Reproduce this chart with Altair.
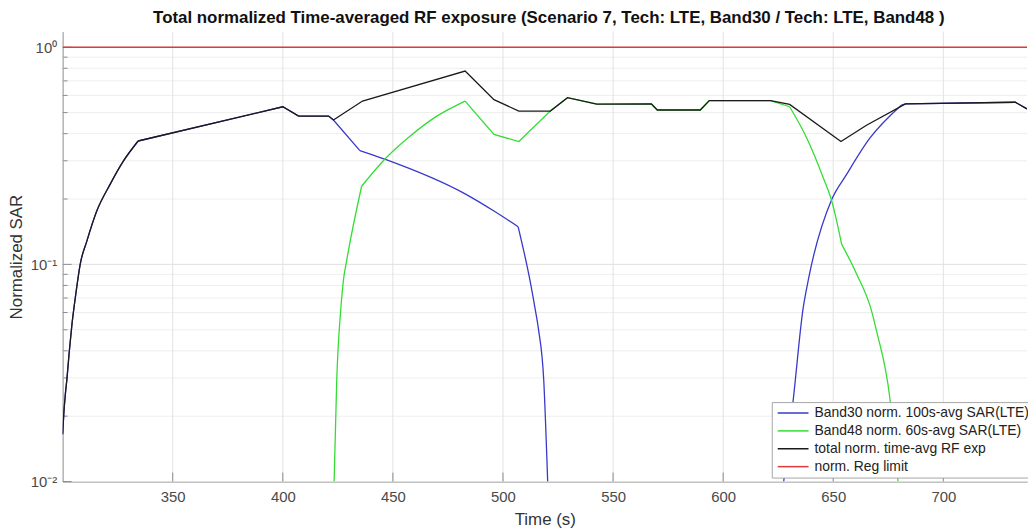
import altair as alt
import pandas as pd

# ---- data (time in s, normalized SAR) ----
# total norm. time-avg RF exp
tot_rise_t = [300, 300.6, 301.2, 302.0, 303.0, 304.2, 305.8, 308.0, 311.0, 315.5, 321.5, 327.5, 334.3]
tot_rise_v = [0.0165, 0.021, 0.025, 0.030, 0.0395, 0.0525, 0.0707, 0.1004, 0.128, 0.176, 0.233, 0.298, 0.370]
tot_rest_t = [334.3, 400.0, 407.2, 420.8, 423.0, 436.2, 482.8, 495.9, 507.2, 521.5, 529.3, 542.6,
              567.4, 570.1, 589.6, 593.7, 621.5, 630.2, 653.5, 665.1, 682.8, 732.7, 738.0]
tot_rest_v = [0.370, 0.532, 0.482, 0.482, 0.462, 0.565, 0.777, 0.574, 0.508, 0.508, 0.586, 0.547,
              0.548, 0.514, 0.514, 0.568, 0.568, 0.545, 0.368, 0.437, 0.548, 0.558, 0.520]

# Band30 norm. 100s-avg SAR(LTE)
b30_lin1_t = [334.3, 400.0, 407.2, 420.8, 423.0, 435.0]
b30_lin1_v = [0.370, 0.532, 0.482, 0.482, 0.462, 0.334]
b30_dec1_t = [435.0, 446.3, 483.2, 495.9, 506.9]
b30_dec1_v = [0.334, 0.305, 0.210, 0.176, 0.149]
b30_dec2_t = [506.9, 512.5, 514.7, 516.2, 518.5, 520.3]
b30_dec2_v = [0.149, 0.082, 0.0616, 0.0497, 0.0294, 0.01]
b30_rise_t = [627.5, 632.0, 636.2, 639.0, 649.3, 656.0, 666.6, 680.9]
b30_rise_v = [0.01, 0.0247, 0.0616, 0.088, 0.199, 0.259, 0.381, 0.541]
b30_lin2_t = [680.9, 682.8, 732.7, 738.0]
b30_lin2_v = [0.541, 0.548, 0.558, 0.520]

# Band48 norm. 60s-avg SAR(LTE)
b48_rise1_t = [423.3, 424.5, 426.3, 427.5, 429.0, 435.8]
b48_rise1_v = [0.01, 0.0294, 0.0616, 0.084, 0.104, 0.229]
b48_rise2_t = [435.8, 446.3, 457.6, 469.6, 482.8]
b48_rise2_v = [0.229, 0.305, 0.388, 0.479, 0.565]
b48_lin_t = [482.8, 495.9, 507.2, 521.5, 529.3, 542.6, 567.4, 570.1, 589.6, 593.7, 621.5, 630.2]
b48_lin_v = [0.565, 0.397, 0.368, 0.508, 0.586, 0.547, 0.548, 0.514, 0.514, 0.568, 0.568, 0.532]
b48_dec1_t = [630.2, 638.0, 645.5, 649.3, 653.8]
b48_dec1_v = [0.532, 0.381, 0.250, 0.196, 0.124]
b48_dec2_t = [653.8, 660.6, 667.3, 669.6, 675.6, 679.4]
b48_dec2_v = [0.124, 0.0904, 0.0616, 0.0497, 0.0247, 0.01]

# norm. Reg limit
limit_t = [300, 738]
limit_v = [1.0, 1.0]

series_names = ["Band30 norm. 100s-avg SAR(LTE)", "Band48 norm. 60s-avg SAR(LTE)",
                "total norm. time-avg RF exp", "norm. Reg limit"]
series_colors = ["#3838cc", "#33dd33", "#1a1a1a", "#e03a3a"]

x_ticks = [350, 400, 450, 500, 550, 600, 650, 700]
y_major = [0.01, 0.1, 1.0]
y_minor = [0.02, 0.03, 0.04, 0.05, 0.06, 0.07, 0.08, 0.09,
           0.2, 0.3, 0.4, 0.5, 0.6, 0.7, 0.8, 0.9]

TITLE = "Total normalized Time-averaged RF exposure (Scenario 7, Tech: LTE, Band30 / Tech: LTE, Band48 )"

# ---- build table ----
pieces = [
    (0, "b30a", True, tot_rise_t, tot_rise_v),
    (0, "b30b", False, b30_lin1_t, b30_lin1_v),
    (0, "b30c", True, b30_dec1_t, b30_dec1_v),
    (0, "b30d", True, b30_dec2_t, b30_dec2_v),
    (0, "b30e", True, b30_rise_t, b30_rise_v),
    (0, "b30f", False, b30_lin2_t, b30_lin2_v),
    (1, "b48a", True, b48_rise1_t, b48_rise1_v),
    (1, "b48b", True, b48_rise2_t, b48_rise2_v),
    (1, "b48c", False, b48_lin_t, b48_lin_v),
    (1, "b48d", True, b48_dec1_t, b48_dec1_v),
    (1, "b48e", True, b48_dec2_t, b48_dec2_v),
    (2, "tota", True, tot_rise_t, tot_rise_v),
    (2, "totb", False, tot_rest_t, tot_rest_v),
    (3, "lim", False, limit_t, limit_v),
]
rows = []
for si, seg, smooth, ts, vs in pieces:
    for t, v in zip(ts, vs):
        rows.append({"t": t, "v": v, "series": series_names[si], "seg": seg, "smooth": smooth})
df = pd.DataFrame(rows)

# ---- layout ----
W, H = 971, 453
FONT = "Liberation Sans"

xs = alt.Scale(domain=[300, 738], nice=False, zero=False)
ys = alt.Scale(type="log", domain=[0.01, 1.18], nice=False)

xaxis = alt.Axis(values=x_ticks, format="d", grid=False, ticks=False, labelPadding=8,
                 labelFontSize=15, labelColor="#4a4a4a", labelFlush=False,
                 domainColor="#8c8c8c", titleFontSize=17, titleFontWeight="normal",
                 titleColor="#333333", titleY=38, titleBaseline="middle")
yaxis = alt.Axis(values=y_major, grid=False, ticks=False, labelPadding=6,
                 labelExpr="datum.value >= 0.5 ? '10⁰' : (datum.value >= 0.05 ? '10⁻¹' : '10⁻²')",
                 labelFontSize=15, labelColor="#4a4a4a", domainColor="#8c8c8c",
                 titleFontSize=17, titleFontWeight="normal", titleColor="#333333",
                 titleX=-46, titleY=H / 2, titleBaseline="middle")

X = alt.X("t:Q", scale=xs, axis=xaxis, title="Time (s)")
Y = alt.Y("v:Q", scale=ys, axis=yaxis, title="Normalized SAR")

df_minor = pd.DataFrame({"v": y_minor})
df_major = pd.DataFrame({"v": y_major})
df_xt = pd.DataFrame({"t": x_ticks})

grid_minor = alt.Chart(df_minor).mark_rule(color="#eeeeee", strokeWidth=1).encode(
    y=Y, x=alt.value(0), x2=alt.value(W))
grid_major = alt.Chart(df_major).mark_rule(color="#e0e0e0", strokeWidth=1).encode(
    y=Y, x=alt.value(0), x2=alt.value(W))
grid_x = alt.Chart(df_xt).mark_rule(color="#e2e2e2", strokeWidth=1).encode(
    x=X, y=alt.value(0), y2=alt.value(H))

tick_x = alt.Chart(df_xt).mark_rule(color="#8c8c8c", strokeWidth=1).encode(
    x=X, y=alt.value(H), y2=alt.value(H - 9))
tick_ymaj = alt.Chart(df_major).mark_rule(color="#8c8c8c", strokeWidth=1).encode(
    y=Y, x=alt.value(0), x2=alt.value(9))
tick_ymin = alt.Chart(df_minor).mark_rule(color="#8c8c8c", strokeWidth=1).encode(
    y=Y, x=alt.value(0), x2=alt.value(5))

color = alt.Color("series:N",
                  scale=alt.Scale(domain=series_names, range=series_colors),
                  legend=alt.Legend(orient="none", legendX=714, legendY=373, title=None,
                                    symbolType="M-1,0L5.2,0", symbolSize=100,
                                    symbolStrokeWidth=1.5, labelFontSize=14, labelOffset=25,
                                    labelColor="#222222", labelLimit=400, padding=4,
                                    rowPadding=4, strokeColor="#a6a6a6", fillColor="white"))


def line_layer(name, smooth, width=1.3):
    return alt.Chart(df).transform_filter(
        (alt.datum.series == name) & (alt.datum.smooth == smooth)
    ).mark_line(strokeWidth=width, clip=True,
                interpolate="monotone" if smooth else "linear").encode(
        x=X, y=Y, color=color, detail="seg:N", order="t:Q")


lines = []
for nm in series_names[:3]:
    lines.append(line_layer(nm, False))
    lines.append(line_layer(nm, True))
lines.append(line_layer(series_names[3], False, 1.6))

chart = alt.layer(grid_minor, grid_major, grid_x, tick_x, tick_ymaj, tick_ymin, *lines).properties(
    width=W, height=H,
    title=alt.TitleParams(TITLE, fontSize=17, fontWeight="bold", anchor="middle",
                          offset=4, dx=4, color="#111111", font=FONT),
    autosize=alt.AutoSizeParams(type="none"),
    padding={"left": 55, "top": 22, "right": 1, "bottom": 46},
).configure(font=FONT).configure_view(stroke="transparent")

chart.save("out.html", embed_options={"renderer": "svg", "actions": False})
